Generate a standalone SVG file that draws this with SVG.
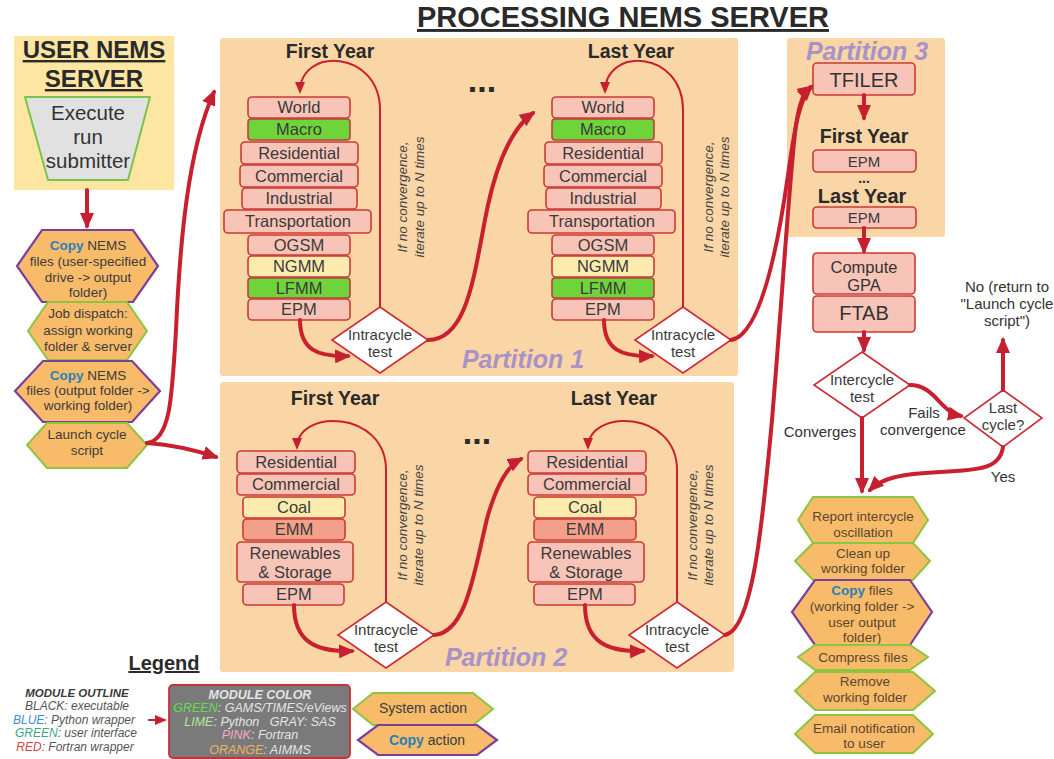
<svg xmlns="http://www.w3.org/2000/svg" width="1054" height="759" viewBox="0 0 1054 759">
<defs>
<marker id="ah" markerUnits="userSpaceOnUse" markerWidth="16" markerHeight="14" viewBox="0 0 16 14" refX="13" refY="7" orient="auto"><path d="M0,0 L16,7 L0,14 z" fill="#c62030"/></marker>
<marker id="ahs" markerUnits="userSpaceOnUse" markerWidth="12" markerHeight="10" viewBox="0 0 12 10" refX="10" refY="5" orient="auto"><path d="M0,0 L12,5 L0,10 z" fill="#c62030"/></marker>
</defs>
<style>
text{font-family:"Liberation Sans",Arial,sans-serif;text-anchor:middle;fill:#333}
.title{font-size:29px;font-weight:bold;text-decoration:underline;fill:#2a2a2a}
.hdr{font-size:24px;font-weight:bold;text-decoration:underline;fill:#2a2a2a}
.yr{font-size:19.5px;font-weight:bold;fill:#2a2a2a}
.dots{font-size:34px;font-weight:bold;fill:#2a2a2a}
.part{font-size:25px;font-weight:bold;font-style:italic;fill:#a892c8}
.part-box{fill:#fad5a5}
.mod{fill:#f8c4b7;stroke:#cc3a33;stroke-width:1.6}
.grn{fill:#6fd33a;stroke:#b8433a;stroke-width:1.6}
.yel{fill:#fdebae;stroke:#cc3a33;stroke-width:1.6}
.emm{fill:#f3a08b;stroke:#cc3a33;stroke-width:1.6}
.ml{font-size:16.5px;fill:#3a3a3a}
.dia{fill:#fff;stroke:#cc2a35;stroke-width:1.6}
.dl{font-size:15px;fill:#3a3a3a}
.vt{font-size:13.5px;font-style:italic;fill:#444}
.hexg{fill:#f8bb6a;stroke:#8cc63f;stroke-width:2}
.hexp{fill:#f8bb6a;stroke:#7a3e9d;stroke-width:2.2}
.hl{font-size:13.5px;fill:#3b3b3b}
.hr{font-size:13.5px;fill:#5a4530}
.copy{fill:#2a7fb8;font-weight:bold}
.c{fill:none;stroke:#c8202f;stroke-width:4;stroke-linecap:round}
.cs{fill:none;stroke:#c8202f;stroke-width:2}
.lab{font-size:15px;fill:#333}
.lg{font-size:12px;font-style:italic;fill:#555}
.lgw{font-size:12.5px;font-style:italic;fill:#e4e4e4}
</style>
<rect width="1054" height="759" fill="#fff"/>

<text class="title" x="623" y="27">PROCESSING NEMS SERVER</text>

<g id="user-server">
<rect x="14" y="36" width="160" height="154" fill="#fce6a2"/>
<text class="hdr" x="94" y="58">USER NEMS</text>
<text class="hdr" x="94" y="87">SERVER</text>
</g>
<g id="execute">
<polygon points="25,97 150,97 128,180 48,180" fill="#e1e1e1" stroke="#7cc24e" stroke-width="2" stroke-linejoin="round"/>
<text x="88" y="120" style="font-size:20.5px">Execute</text>
<text x="88" y="144" style="font-size:20.5px">run</text>
<text x="88" y="168" style="font-size:20.5px">submitter</text>
</g>

<g id="copy1">
<polygon class="hexp" points="42,230 133,230 158,266 133,302 42,302 17,266"/>
<text class="hl" x="88" y="250"><tspan class="copy">Copy</tspan> NEMS</text>
<text class="hl" x="88" y="266">files (user-specified</text>
<text class="hl" x="88" y="282">drive -&gt; output</text>
<text class="hl" x="88" y="297">folder)</text>
</g>
<g id="dispatch">
<polygon class="hexg" points="48,302 127,302 147,331 127,360 48,360 28,331"/>
<text class="hl" x="88" y="318">Job dispatch:</text>
<text class="hl" x="88" y="335">assign working</text>
<text class="hl" x="88" y="351">folder &amp; server</text>
</g>
<g id="copy2">
<polygon class="hexp" points="43,361 132,361 160,391 132,422 43,422 15,391"/>
<text class="hl" x="88" y="380"><tspan class="copy">Copy</tspan> NEMS</text>
<text class="hl" x="88" y="395">files (output folder -&gt;</text>
<text class="hl" x="88" y="410">working folder)</text>
</g>
<g id="launch">
<polygon class="hexg" points="47,423 127,423 147,445 127,468 47,468 27,445"/>
<text class="hl" x="87" y="439">Launch cycle</text>
<text class="hl" x="87" y="455">script</text>
</g>

<g id="partition1">
<rect class="part-box" x="220" y="38" width="518" height="338" rx="3"/>
<text class="yr" x="330" y="58">First Year</text>
<text class="yr" x="631" y="58">Last Year</text>
<text class="dots" x="482" y="92">...</text>
<text class="part" x="523" y="368">Partition 1</text>
</g>
<g id="partition2">
<rect class="part-box" x="220" y="382" width="514" height="290" rx="3"/>
<text class="yr" x="335" y="405">First Year</text>
<text class="yr" x="614" y="405">Last Year</text>
<text class="dots" x="477" y="444">...</text>
<text class="part" x="506" y="666">Partition 2</text>
</g>
<g id="partition3">
<rect class="part-box" x="787" y="38" width="158" height="199" rx="3"/>
<text class="part" x="867" y="60">Partition 3</text>
<text class="yr" x="864" y="143">First Year</text>
<text class="yr" x="862" y="203" style="font-size:20px">Last Year</text>
<text x="864" y="183" style="font-size:14px;font-weight:bold;fill:#2a2a2a">...</text>
</g>

<!-- Partition 1 first year modules -->
<g id="p1fy-world"><rect class="mod" x="248" y="97" width="102" height="21" rx="4"/><text class="ml" x="299" y="113">World</text></g>
<g id="p1fy-macro"><rect class="grn" x="248" y="119" width="102" height="21" rx="3"/><text class="ml" x="299" y="135">Macro</text></g>
<g id="p1fy-res"><rect class="mod" x="241" y="142" width="117" height="22" rx="4"/><text class="ml" x="299" y="158.5">Residential</text></g>
<g id="p1fy-com"><rect class="mod" x="240" y="165" width="118" height="22" rx="4"/><text class="ml" x="299" y="181.5">Commercial</text></g>
<g id="p1fy-ind"><rect class="mod" x="242" y="188" width="115" height="21" rx="4"/><text class="ml" x="299" y="204">Industrial</text></g>
<g id="p1fy-trn"><rect class="mod" x="224" y="210" width="147" height="23" rx="4"/><text class="ml" x="298" y="227">Transportation</text></g>
<g id="p1fy-ogsm"><rect class="mod" x="248" y="235" width="102" height="20" rx="4"/><text class="ml" x="299" y="250.5">OGSM</text></g>
<g id="p1fy-ngmm"><rect class="yel" x="248" y="256" width="102" height="21" rx="4"/><text class="ml" x="299" y="272">NGMM</text></g>
<g id="p1fy-lfmm"><rect class="grn" x="248" y="278" width="102" height="20" rx="3"/><text class="ml" x="299" y="293.5">LFMM</text></g>
<g id="p1fy-epm"><rect class="mod" x="248" y="299" width="102" height="21" rx="4"/><text class="ml" x="299" y="315">EPM</text></g>
<g id="p1fy-test"><polygon class="dia" points="380,307 428,340 380,373 332,340"/><text class="dl" x="380" y="340">Intracycle</text><text class="dl" x="380" y="357">test</text></g>

<!-- Partition 1 last year modules -->
<g id="p1ly-world"><rect class="mod" x="552" y="97" width="102" height="21" rx="4"/><text class="ml" x="603" y="113">World</text></g>
<g id="p1ly-macro"><rect class="grn" x="552" y="119" width="102" height="21" rx="3"/><text class="ml" x="603" y="135">Macro</text></g>
<g id="p1ly-res"><rect class="mod" x="545" y="142" width="117" height="22" rx="4"/><text class="ml" x="603" y="158.5">Residential</text></g>
<g id="p1ly-com"><rect class="mod" x="544" y="165" width="118" height="22" rx="4"/><text class="ml" x="603" y="181.5">Commercial</text></g>
<g id="p1ly-ind"><rect class="mod" x="546" y="188" width="115" height="21" rx="4"/><text class="ml" x="603" y="204">Industrial</text></g>
<g id="p1ly-trn"><rect class="mod" x="528" y="210" width="147" height="23" rx="4"/><text class="ml" x="602" y="227">Transportation</text></g>
<g id="p1ly-ogsm"><rect class="mod" x="552" y="235" width="102" height="20" rx="4"/><text class="ml" x="603" y="250.5">OGSM</text></g>
<g id="p1ly-ngmm"><rect class="yel" x="552" y="256" width="102" height="21" rx="4"/><text class="ml" x="603" y="272">NGMM</text></g>
<g id="p1ly-lfmm"><rect class="grn" x="552" y="278" width="102" height="20" rx="3"/><text class="ml" x="603" y="293.5">LFMM</text></g>
<g id="p1ly-epm"><rect class="mod" x="552" y="299" width="102" height="21" rx="4"/><text class="ml" x="603" y="315">EPM</text></g>
<g id="p1ly-test"><polygon class="dia" points="683,307 731,340 683,373 635,340"/><text class="dl" x="683" y="340">Intracycle</text><text class="dl" x="683" y="357">test</text></g>

<!-- Partition 2 first year -->
<g id="p2fy-res"><rect class="mod" x="237" y="451" width="118" height="22" rx="4"/><text class="ml" x="296" y="467.5">Residential</text></g>
<g id="p2fy-com"><rect class="mod" x="237" y="474" width="118" height="21" rx="4"/><text class="ml" x="296" y="490">Commercial</text></g>
<g id="p2fy-coal"><rect class="yel" x="243" y="497" width="102" height="21" rx="4"/><text class="ml" x="294" y="513">Coal</text></g>
<g id="p2fy-emm"><rect class="emm" x="243" y="519" width="102" height="21" rx="4"/><text class="ml" x="294" y="535">EMM</text></g>
<g id="p2fy-ren"><rect class="mod" x="237" y="542" width="116" height="40" rx="4"/><text class="ml" x="295" y="558.5">Renewables</text><text class="ml" x="295" y="577.5">&amp; Storage</text></g>
<g id="p2fy-epm"><rect class="mod" x="243" y="584" width="101" height="21" rx="4"/><text class="ml" x="294" y="600">EPM</text></g>
<g id="p2fy-test"><polygon class="dia" points="386,602 434,635 386,668 338,635"/><text class="dl" x="386" y="635">Intracycle</text><text class="dl" x="386" y="652">test</text></g>

<!-- Partition 2 last year -->
<g id="p2ly-res"><rect class="mod" x="528" y="451" width="118" height="22" rx="4"/><text class="ml" x="587" y="467.5">Residential</text></g>
<g id="p2ly-com"><rect class="mod" x="528" y="474" width="118" height="21" rx="4"/><text class="ml" x="587" y="490">Commercial</text></g>
<g id="p2ly-coal"><rect class="yel" x="534" y="497" width="102" height="21" rx="4"/><text class="ml" x="585" y="513">Coal</text></g>
<g id="p2ly-emm"><rect class="emm" x="534" y="519" width="102" height="21" rx="4"/><text class="ml" x="585" y="535">EMM</text></g>
<g id="p2ly-ren"><rect class="mod" x="528" y="542" width="116" height="40" rx="4"/><text class="ml" x="586" y="558.5">Renewables</text><text class="ml" x="586" y="577.5">&amp; Storage</text></g>
<g id="p2ly-epm"><rect class="mod" x="534" y="584" width="101" height="21" rx="4"/><text class="ml" x="585" y="600">EPM</text></g>
<g id="p2ly-test"><polygon class="dia" points="677,602 725,635 677,668 629,635"/><text class="dl" x="677" y="635">Intracycle</text><text class="dl" x="677" y="652">test</text></g>

<!-- iterate labels -->
<g id="iter-labels">
<text class="vt" x="407" y="197" transform="rotate(-90 407 197)">If no convergence,</text>
<text class="vt" x="424" y="197" transform="rotate(-90 424 197)">iterate up to N times</text>
<text class="vt" x="713" y="197" transform="rotate(-90 713 197)">If no convergence,</text>
<text class="vt" x="729" y="197" transform="rotate(-90 729 197)">iterate up to N times</text>
<text class="vt" x="407" y="525" transform="rotate(-90 407 525)">If no convergence,</text>
<text class="vt" x="423" y="525" transform="rotate(-90 423 525)">iterate up to N times</text>
<text class="vt" x="697" y="525" transform="rotate(-90 697 525)">If no convergence,</text>
<text class="vt" x="713" y="525" transform="rotate(-90 713 525)">iterate up to N times</text>
</g>

<!-- Partition 3 and post-processing -->
<g id="tfiler"><rect class="mod" x="813" y="63" width="102" height="32" rx="4"/><text x="864" y="87" style="font-size:20px;fill:#333">TFILER</text></g>
<g id="p3-epm1"><rect class="mod" x="813" y="150" width="103" height="22" rx="4"/><text class="ml" x="864" y="166.5" style="font-size:15px">EPM</text></g>
<g id="p3-epm2"><rect class="mod" x="813" y="207" width="103" height="21" rx="4"/><text class="ml" x="864" y="223" style="font-size:15px">EPM</text></g>
<g id="gpa"><rect class="mod" x="813" y="253" width="102" height="41" rx="4"/><text x="864" y="273" style="font-size:16.5px">Compute</text><text x="864" y="291" style="font-size:16.5px">GPA</text></g>
<g id="ftab"><rect class="mod" x="813" y="296" width="102" height="36" rx="4"/><text x="864" y="320" style="font-size:20px">FTAB</text></g>
<g id="intercycle"><polygon class="dia" points="862,352 910,385 862,418 814,385"/><text class="dl" x="862" y="385">Intercycle</text><text class="dl" x="862" y="402">test</text></g>
<g id="lastcycle"><polygon class="dia" points="1003,390 1042,418 1003,447 964,418"/><text class="dl" x="1003" y="413">Last</text><text class="dl" x="1003" y="430">cycle?</text></g>
<g id="no-label">
<text class="lab" x="1007" y="292">No (return to</text>
<text class="lab" x="1007" y="309">"Launch cycle</text>
<text class="lab" x="1007" y="326">script")</text>
</g>
<g id="edge-labels">
<text class="lab" x="924" y="418">Fails</text>
<text class="lab" x="923" y="435">convergence</text>
<text class="lab" x="820" y="437">Converges</text>
<text class="lab" x="1003" y="482">Yes</text>
</g>

<g id="report"><polygon class="hexg" points="813,497 913,497 928,520 913,543 813,543 798,520"/><text class="hr" x="863" y="521">Report intercycle</text><text class="hr" x="863" y="537">oscillation</text></g>
<g id="cleanup"><polygon class="hexg" points="813,543 913,543 930,561 913,580 813,580 795,561"/><text class="hr" x="863" y="558">Clean up</text><text class="hr" x="863" y="573">working folder</text></g>
<g id="copy3"><polygon class="hexp" points="815,580 910,580 932,612 910,645 815,645 792,612"/><text class="hr" x="862" y="595"><tspan class="copy">Copy</tspan> files</text><text class="hr" x="862" y="611">(working folder -&gt;</text><text class="hr" x="862" y="627">user output</text><text class="hr" x="862" y="642">folder)</text></g>
<g id="compress"><polygon class="hexg" points="815,645 910,645 928,657 910,670 815,670 798,657"/><text class="hr" x="863" y="662">Compress files</text></g>
<g id="remove"><polygon class="hexg" points="815,672 913,672 935,691 913,710 815,710 795,691"/><text class="hr" x="865" y="686">Remove</text><text class="hr" x="865" y="702">working folder</text></g>
<g id="email"><polygon class="hexg" points="815,715 913,715 933,734 913,753 815,753 795,734"/><text class="hr" x="864" y="733">Email notification</text><text class="hr" x="864" y="748">to user</text></g>

<!-- Legend -->
<g id="legend">
<text x="164" y="670" style="font-size:20px;font-weight:bold;text-decoration:underline;fill:#2a2a2a">Legend</text>
<text class="lg" x="77" y="697" style="font-weight:bold;font-size:11.5px;fill:#3a3a3a">MODULE OUTLINE</text>
<text class="lg" x="77" y="710"><tspan fill="#555">BLACK</tspan>: executable</text>
<text class="lg" x="74" y="724"><tspan fill="#3a8fd0">BLUE</tspan>: Python wrapper</text>
<text class="lg" x="76" y="737"><tspan fill="#3aa88a">GREEN</tspan>: user interface</text>
<text class="lg" x="75" y="751"><tspan fill="#d64545">RED</tspan>: Fortran wrapper</text>
<rect x="169" y="685" width="181" height="73" rx="4" fill="#7a7a7a" stroke="#c9303a" stroke-width="1.8"/>
<text class="lgw" x="260" y="699" style="font-weight:bold">MODULE COLOR</text>
<text class="lgw" x="260" y="712"><tspan fill="#5fe04a">GREEN</tspan>: GAMS/TIMES/eViews</text>
<text class="lgw" x="260" y="726" xml:space="preserve"><tspan fill="#b6ea9e">LIME</tspan>: Python   GRAY: SAS</text>
<text class="lgw" x="260" y="739"><tspan fill="#f5a8c4">PINK</tspan>: Fortran</text>
<text class="lgw" x="260" y="754"><tspan fill="#f2b25e">ORANGE</tspan>: AIMMS</text>
</g>
<g id="legend-system"><polygon class="hexg" points="373,693 473,693 493,709 473,725 373,725 353,709"/><text class="hl" x="423" y="713" style="font-size:14px">System action</text></g>
<g id="legend-copy"><polygon class="hexp" points="378,725 477,725 497,740 477,755 378,755 358,740"/><text class="hl" x="427" y="745" style="font-size:14px"><tspan class="copy">Copy</tspan> action</text></g>

<g id="connectors">
<path class="c" d="M87,190 L87,226" marker-end="url(#ah)"/>
<path class="c" d="M147,443 C170,440 172,400 176,330 C180,240 188,150 214,92" marker-end="url(#ah)"/>
<path class="c" d="M147,443 C175,445 195,450 216,457" marker-end="url(#ah)"/>
<path class="cs" d="M380,307 L380,110 C380,50 300,46 300,92" marker-end="url(#ahs)"/>
<path class="c" d="M300,320 C300,350 318,357 348,356" marker-end="url(#ah)"/>
<path class="c" d="M428,340 C470,340 475,265 488,205 C498,160 512,128 533,113" marker-end="url(#ah)"/>
<path class="cs" d="M683,307 L683,110 C683,50 605,46 605,92" marker-end="url(#ahs)"/>
<path class="c" d="M604,320 C604,350 622,357 652,356" marker-end="url(#ah)"/>
<path class="c" d="M731,340 C758,336 776,260 788,175 C795,125 800,98 811,87" marker-end="url(#ah)"/>
<path class="cs" d="M386,602 L386,470 C386,410 297,408 297,448" marker-end="url(#ahs)"/>
<path class="c" d="M294,605 C294,642 316,652 352,651" marker-end="url(#ah)"/>
<path class="c" d="M434,635 C468,633 475,565 488,515 C498,482 508,466 521,459" marker-end="url(#ah)"/>
<path class="cs" d="M677,602 L677,470 C677,410 588,408 588,448" marker-end="url(#ahs)"/>
<path class="c" d="M585,605 C585,642 607,652 643,651" marker-end="url(#ah)"/>
<path class="c" d="M725,635 C752,630 762,530 772,420 C782,300 790,170 796,125 C800,100 804,92 811,87" marker-end="url(#ah)"/>
<path class="c" d="M864,95 L864,118" marker-end="url(#ah)"/>
<path class="c" d="M864,228 L864,251" marker-end="url(#ah)"/>
<path class="c" d="M864,332 L864,350" marker-end="url(#ah)"/>
<path class="c" d="M862,418 L862,491" marker-end="url(#ah)"/>
<path class="c" d="M910,385 C935,385 940,412 961,416" marker-end="url(#ah)"/>
<path class="c" d="M1003,447 C1000,468 982,470 940,472 C900,474 882,478 870,490" marker-end="url(#ah)"/>
<path class="c" d="M1003,390 L1003,340" marker-end="url(#ah)"/>
<path class="cs" d="M148,720 L165,720" stroke-width="1.5" marker-end="url(#ahs)"/>
</g>
</svg>
